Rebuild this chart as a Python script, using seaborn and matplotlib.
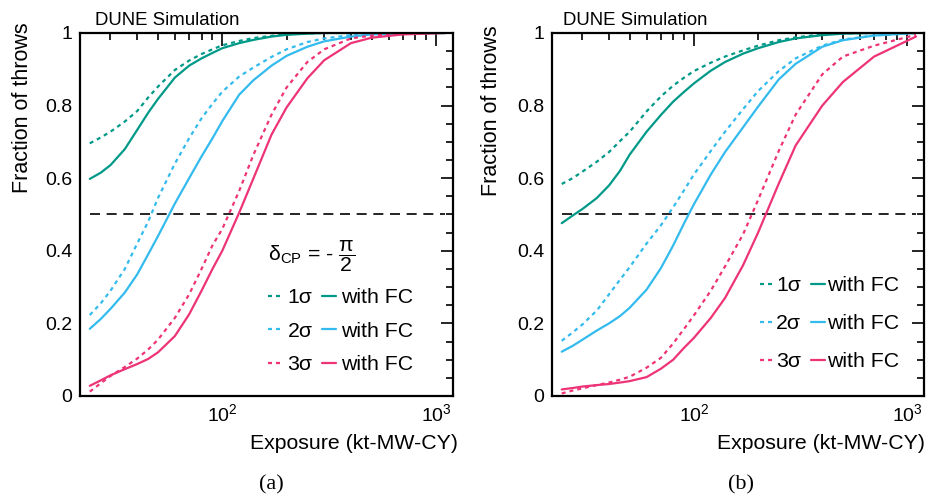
import matplotlib
matplotlib.use("Agg")
import matplotlib.pyplot as plt
from matplotlib.lines import Line2D
from matplotlib.ticker import LogLocator, MultipleLocator, NullFormatter, FuncFormatter
import pandas as pd
import seaborn as sns

# ---------------- data ----------------
exposure = [24, 27, 30, 35, 40, 45, 50, 60, 70, 80, 90, 100, 120, 140, 170,
            200, 250, 300, 400, 500, 700, 1100]
sigma_levels = ["1σ", "2σ", "3σ"]
methods = ["std", "FC"]
threshold = 0.5

# panel (a): delta_CP = -pi/2
a_1s = [0.696, 0.712, 0.728, 0.756, 0.785, 0.822, 0.852, 0.898, 0.924, 0.942, 0.955,
        0.966, 0.978, 0.986, 0.992, 0.996, 0.999, 1.0, 1.0, 1.0, 1.0, 1.0]
a_1s_fc = [0.598, 0.615, 0.636, 0.680, 0.733, 0.780, 0.818, 0.877, 0.910, 0.930, 0.945,
           0.958, 0.972, 0.981, 0.990, 0.995, 0.998, 1.0, 1.0, 1.0, 1.0, 1.0]
a_2s = [0.223, 0.255, 0.290, 0.350, 0.420, 0.480, 0.545, 0.640, 0.710, 0.765, 0.805,
        0.838, 0.880, 0.905, 0.934, 0.955, 0.975, 0.985, 0.994, 0.997, 1.0, 1.0]
a_2s_fc = [0.185, 0.212, 0.240, 0.285, 0.335, 0.390, 0.440, 0.530, 0.600, 0.660, 0.710,
           0.757, 0.830, 0.870, 0.910, 0.937, 0.962, 0.977, 0.990, 0.996, 0.999, 1.0]
a_3s = [0.012, 0.035, 0.055, 0.080, 0.103, 0.128, 0.155, 0.215, 0.280, 0.350, 0.415,
        0.460, 0.565, 0.665, 0.775, 0.850, 0.920, 0.955, 0.985, 0.993, 0.999, 1.0]
a_3s_fc = [0.028, 0.043, 0.057, 0.074, 0.088, 0.102, 0.120, 0.165, 0.225, 0.290, 0.350,
           0.400, 0.505, 0.600, 0.720, 0.795, 0.875, 0.925, 0.972, 0.987, 0.996, 1.0]

# panel (b)
b_1s = [0.584, 0.600, 0.618, 0.645, 0.672, 0.702, 0.728, 0.784, 0.825, 0.855, 0.877,
        0.895, 0.918, 0.935, 0.952, 0.965, 0.980, 0.988, 0.996, 0.999, 1.0, 1.0]
b_1s_fc = [0.476, 0.497, 0.515, 0.545, 0.580, 0.620, 0.665, 0.728, 0.774, 0.811, 0.838,
           0.861, 0.896, 0.920, 0.943, 0.958, 0.975, 0.985, 0.994, 0.998, 1.0, 1.0]
b_2s = [0.152, 0.175, 0.197, 0.235, 0.280, 0.320, 0.355, 0.420, 0.470, 0.520, 0.567,
        0.610, 0.675, 0.728, 0.790, 0.840, 0.895, 0.930, 0.965, 0.982, 0.993, 1.0]
b_2s_fc = [0.122, 0.138, 0.155, 0.180, 0.200, 0.220, 0.243, 0.293, 0.352, 0.415, 0.476,
           0.528, 0.610, 0.672, 0.740, 0.797, 0.872, 0.915, 0.962, 0.980, 0.993, 1.0]
b_3s = [0.007, 0.015, 0.021, 0.030, 0.037, 0.045, 0.053, 0.078, 0.105, 0.145, 0.185,
        0.222, 0.290, 0.357, 0.445, 0.540, 0.675, 0.775, 0.886, 0.935, 0.965, 0.995]
b_3s_fc = [0.018, 0.022, 0.026, 0.030, 0.033, 0.037, 0.041, 0.052, 0.075, 0.100, 0.133,
           0.160, 0.215, 0.270, 0.360, 0.450, 0.585, 0.690, 0.800, 0.865, 0.935, 0.990]

colors = ["#009988", "#33BBEE", "#EE3377"]

# ---------------- style ----------------
sns.set_style("white")
plt.rcParams["font.family"] = ["Liberation Sans", "DejaVu Sans"]
plt.rcParams["mathtext.fontset"] = "custom"
plt.rcParams["mathtext.rm"] = "Liberation Sans"
plt.rcParams["mathtext.it"] = "Liberation Sans:italic"
plt.rcParams["mathtext.sf"] = "Liberation Sans"
for key in ["text.color", "axes.labelcolor", "xtick.color", "ytick.color",
            "axes.edgecolor"]:
    plt.rcParams[key] = "black"
plt.rcParams["axes.linewidth"] = 1.6


def build_frame(curves):
    rows = []
    for sig, (std, fc) in zip(sigma_levels, curves):
        for xv, yv in zip(exposure, std):
            rows.append((xv, yv, sig, "std"))
        for xv, yv in zip(exposure, fc):
            rows.append((xv, yv, sig, "FC"))
    return pd.DataFrame(rows, columns=["exposure", "fraction", "sigma", "method"])


df_a = build_frame([(a_1s, a_1s_fc), (a_2s, a_2s_fc), (a_3s, a_3s_fc)])
df_b = build_frame([(b_1s, b_1s_fc), (b_2s, b_2s_fc), (b_3s, b_3s_fc)])

fig = plt.figure(figsize=(9.28, 5.01), dpi=100)
ax_a = fig.add_axes([0.0862, 0.2096, 0.4019, 0.7246])
ax_b = fig.add_axes([0.5948, 0.2096, 0.4009, 0.7246])

palette = dict(zip(sigma_levels, colors))
dot = (1.8, 1.8)

settings = [
    dict(ax=ax_a, df=df_a, title=True, leg_anchor=(0.505, 0.435), lspace=0.68,
         htp=0.25, csp=0.45,
         ylab=(-0.127, 1.030), xlab=(1.013, -0.106), dune=(0.040, 1.022), cap=(271, "(a)")),
    dict(ax=ax_b, df=df_b, title=False, leg_anchor=(0.559, 0.33), lspace=0.9,
         htp=0.12, csp=0.45,
         ylab=(-0.133, 1.020), xlab=(1.004, -0.106), dune=(0.030, 1.022), cap=(741, "(b)")),
]

for s in settings:
    ax = s["ax"]
    sns.lineplot(data=s["df"], x="exposure", y="fraction", hue="sigma", style="method",
                 hue_order=sigma_levels, style_order=methods, palette=palette,
                 dashes={"std": dot, "FC": ""}, estimator=None, sort=True,
                 legend=False, linewidth=1.6, ax=ax)
    ax.plot([exposure[0], exposure[-1]], [threshold, threshold], color="black",
            lw=1.2, dashes=(6, 4), zorder=1)
    ax.set_xscale("log")
    ax.set_xlim(21.6, 1200)
    ax.set_ylim(0, 1)
    ax.xaxis.set_major_locator(LogLocator(base=10, numticks=10))
    ax.xaxis.set_minor_locator(LogLocator(base=10, subs=range(2, 10), numticks=20))
    ax.xaxis.set_minor_formatter(NullFormatter())
    ax.yaxis.set_major_locator(MultipleLocator(0.2))
    ax.yaxis.set_minor_locator(MultipleLocator(0.05))
    ax.yaxis.set_major_formatter(FuncFormatter(lambda v, p: "%g" % round(v, 2)))
    ax.tick_params(which="both", direction="in", top=True, right=True,
                   color="black", labelcolor="black", width=1.2, labelsize=14)
    ax.tick_params(which="major", length=9)
    ax.tick_params(which="minor", length=5)
    ax.tick_params(axis="y", pad=5.5)
    ax.tick_params(axis="x", pad=5)
    for sp in ax.spines.values():
        sp.set_visible(True)
        sp.set_linewidth(1.6)
        sp.set_color("black")

    ax.set_xlabel("Exposure (kt-MW-CY)", fontsize=15.3, loc="right", color="black")
    ax.xaxis.set_label_coords(*s["xlab"])
    ax.set_ylabel("Fraction of throws", fontsize=15.5, loc="top", color="black")
    ax.yaxis.set_label_coords(*s["ylab"])
    ax.text(s["dune"][0], s["dune"][1], "DUNE Simulation", transform=ax.transAxes,
            fontsize=13.4, ha="left", va="baseline", color="black")

    handles = [Line2D([], [], color=c, lw=1.6, dashes=dot) for c in colors] + \
              [Line2D([], [], color=c, lw=1.6) for c in colors]
    labels = sigma_levels + ["with FC"] * 3
    leg = ax.legend(handles, labels, ncol=2, loc="upper left",
                    bbox_to_anchor=s["leg_anchor"], frameon=False, fontsize=15.3,
                    handlelength=0.65, handletextpad=s["htp"], columnspacing=s["csp"],
                    labelspacing=s["lspace"], borderpad=0, borderaxespad=0,
                    labelcolor="black",
                    title=(r"δ$_{\mathrm{CP}}$ = - $\dfrac{\mathrm{π}}{\mathrm{2}}$"
                           if s["title"] else None),
                    title_fontsize=15.3, alignment="left")
    if leg.get_title() is not None:
        leg.get_title().set_color("black")

    fig.text(s["cap"][0] / 928, 1 - 485 / 501, s["cap"][1], fontsize=16,
             family=["Liberation Serif", "DejaVu Serif"], ha="center", va="center",
             color="black")

fig.savefig("out.png", dpi=100)
